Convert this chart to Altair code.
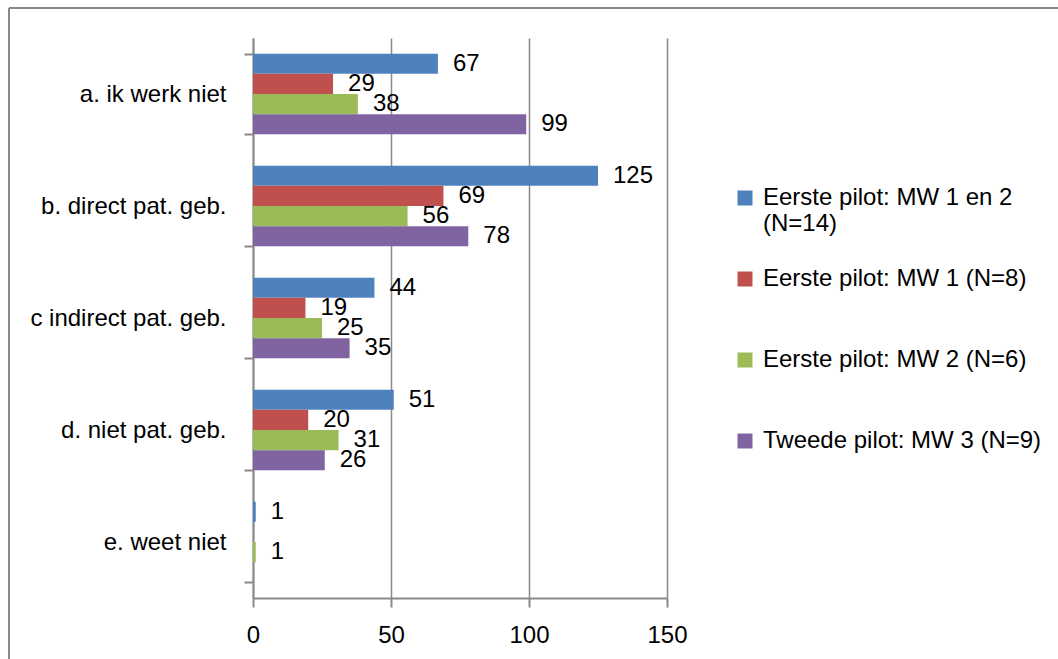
import altair as alt
import pandas as pd

categories = ["a. ik werk niet", "b. direct pat. geb.", "c indirect pat. geb.",
              "d. niet pat. geb.", "e. weet niet"]
series = ["Eerste pilot: MW 1 en 2 (N=14)", "Eerste pilot: MW 1 (N=8)",
          "Eerste pilot: MW 2 (N=6)", "Tweede pilot: MW 3 (N=9)"]
mw12 = [67, 125, 44, 51, 1]
mw1 = [29, 69, 19, 20, 0]
mw2 = [38, 56, 25, 31, 1]
mw3 = [99, 78, 35, 26, 0]
colors = ["#4F81BD", "#C0504D", "#9BBB59", "#8064A2"]
x_ticks = [0, 50, 100, 150]

rows = []
for s, vals in zip(series, [mw12, mw1, mw2, mw3]):
    for c, v in zip(categories, vals):
        rows.append({"category": c, "series": s, "value": v})
df = pd.DataFrame(rows)

FONT = "Liberation Sans"
GRAY = "#898989"
W, H = 414, 560
PAD_L, PAD_T = 253, 38

y_enc = alt.Y(
    "category:N", sort=categories,
    scale=alt.Scale(paddingInner=0.28, paddingOuter=0.14),
    axis=alt.Axis(title=None, tickBand="extent", grid=False, ticks=True,
                  tickSize=9, tickColor=GRAY, tickWidth=2,
                  domainColor=GRAY, domainWidth=2,
                  labelFont=FONT, labelFontSize=24, labelColor="black",
                  labelPadding=18, labelLimit=400),
)
yoff = alt.YOffset("series:N", sort=series,
                   scale=alt.Scale(paddingInner=0, paddingOuter=0))
x_enc = alt.X(
    "value:Q", scale=alt.Scale(domain=[0, 150], nice=False),
    axis=alt.Axis(values=x_ticks, title=None, grid=True, gridColor=GRAY,
                  gridWidth=1.5, tickSize=9, tickColor=GRAY, tickWidth=2,
                  domainColor=GRAY, domainWidth=2,
                  labelFont=FONT, labelFontSize=24, labelColor="black",
                  labelPadding=16, labelFlush=False),
)

label_expr = ("datum.label == 'Eerste pilot: MW 1 en 2 (N=14)' ? "
              "['Eerste pilot: MW 1 en 2', '(N=14)'] : [datum.label, ' ']")

bars = alt.Chart(df).mark_bar().encode(
    x=x_enc,
    y=y_enc,
    yOffset=yoff,
    color=alt.Color(
        "series:N", sort=series,
        scale=alt.Scale(domain=series, range=colors),
        legend=alt.Legend(
            title=None, orient="none", legendX=480, legendY=148,
            symbolType="square", symbolSize=225, symbolStrokeWidth=0,
            labelFont=FONT, labelFontSize=24, labelColor="black",
            labelOffset=6, rowPadding=31, labelLimit=400,
            labelExpr=label_expr,
        ),
    ),
)

text = alt.Chart(df).transform_filter("datum.value > 0").mark_text(
    align="left", baseline="middle", dx=15, font=FONT, fontSize=24,
    color="black",
).encode(
    x=alt.X("value:Q"),
    y=alt.Y("category:N", sort=categories),
    yOffset=alt.YOffset("series:N", sort=series),
    text=alt.Text("value:Q"),
)

border_data = alt.Data(values=[{}])
top_border = alt.Chart(border_data).mark_rule(color=GRAY, strokeWidth=2).encode(
    x=alt.value(9 - PAD_L), x2=alt.value(1058 - PAD_L), y=alt.value(8 - PAD_T)
)
left_border = alt.Chart(border_data).mark_rule(color=GRAY, strokeWidth=2).encode(
    x=alt.value(9 - PAD_L), y=alt.value(8 - PAD_T), y2=alt.value(659 - PAD_T)
)

chart = alt.layer(bars, text, top_border, left_border).properties(
    width=W, height=H,
    autosize=alt.AutoSizeParams(type="none"),
    padding={"left": PAD_L, "top": PAD_T, "right": 1058 - PAD_L - W,
             "bottom": 659 - PAD_T - H},
    background="white",
).configure_view(stroke=None)

chart.save("out.html", embed_options={"renderer": "svg", "actions": False})
